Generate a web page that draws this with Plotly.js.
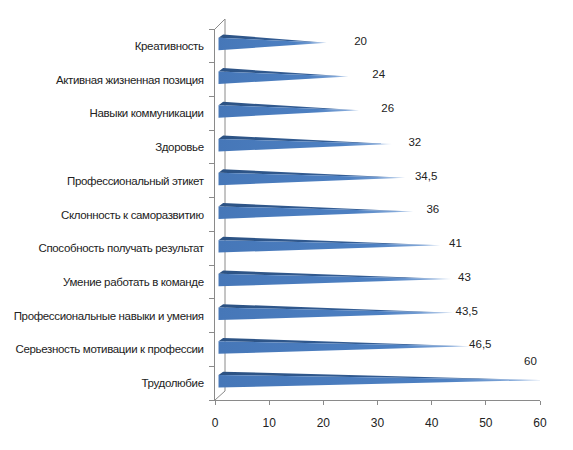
<!DOCTYPE html>
<html>
<head>
<meta charset="utf-8">
<script src="https://cdn.plot.ly/plotly-3.0.1.min.js"></script>
<style>
html,body{margin:0;padding:0;background:#fff;}
#chart{width:573px;height:450px;}
#chart .ytick text{letter-spacing:-0.35px;}
</style>
</head>
<body>
<div id="chart"></div>
<script>
const categories = [
  'Креативность',
  'Активная жизненная позиция',
  'Навыки коммуникации',
  'Здоровье',
  'Профессиональный этикет',
  'Склонность к саморазвитию',
  'Способность получать результат',
  'Умение работать в команде',
  'Профессиональные навыки и умения',
  'Серьезность мотивации к профессии',
  'Трудолюбие'
];
const values = [20, 24, 26, 32, 34.5, 36, 41, 43, 43.5, 46.5, 60];
const xTicks = [0, 10, 20, 30, 40, 50, 60];

const FONT = 'Liberation Sans, Arial, sans-serif';
const TXT = '#222222';
const AX = '#8a8a8a';

const traces = [];
const x0 = 0.65, x1 = 1.5;
const maxV = Math.max(...values);
values.forEach((v, k) => {
  const c = k;
  const tip = v + x0;  // whole cone shifted by the 3D depth offset
  // top (dark) face
  traces.push({
    type: 'scatter', mode: 'lines', hoverinfo: 'skip', showlegend: false,
    x: [x0, x1, tip, x0], y: [c - 0.24, c - 0.34, c - 0.09, c - 0.24],
    fill: 'toself', line: {width: 0, color: 'rgba(0,0,0,0)'},
    fillcolor: '#2f5687',
    fillgradient: {type: 'horizontal', colorscale: [[0, '#2c5283'], [0.8, '#35609a'], [1, '#9fbbe2']]}
  });
  // front face
  traces.push({
    type: 'scatter', mode: 'lines', hoverinfo: 'skip', showlegend: false,
    x: [x0, x0, tip, x0], y: [c - 0.24, c + 0.13, c - 0.09, c - 0.24],
    fill: 'toself', line: {width: 0, color: 'rgba(0,0,0,0)'},
    fillcolor: '#4a7ebd',
    fillgradient: {type: 'horizontal', colorscale: [[0, '#4677b8'], [0.7, '#4d80c2'], [0.93, '#86abdb'], [1, '#c2d5ef']]}
  });
});

// data labels
traces.push({
  type: 'scatter', mode: 'text', hoverinfo: 'skip', showlegend: false,
  x: values.map(v => 0.834 * v + 10.2 - (v === maxV ? 2 : 0)),
  y: values.map((v, k) => k - 0.12 - (v === maxV ? 0.5 : 0)),
  text: values.map(v => String(v).replace('.', ',')),
  textposition: 'middle center',
  textfont: {family: FONT, size: 11.5, color: TXT},
  cliponaxis: false
});

// dummy trace for boundary ticks axis
traces.push({type: 'scatter', mode: 'markers', x: [0], y: [0], yaxis: 'y2',
  marker: {opacity: 0}, hoverinfo: 'skip', showlegend: false});

const n = categories.length;
const dx = 10 / 325, dyTop = 10 / 371, dyBot = 9 / 371;

const layout = {
  width: 573, height: 450,
  margin: {l: 215, r: 33, t: 29, b: 50},
  paper_bgcolor: '#fff', plot_bgcolor: 'rgba(0,0,0,0)',
  showlegend: false,
  font: {family: FONT, size: 12, color: TXT},
  xaxis: {
    range: [0, 60], tickvals: xTicks, ticktext: xTicks.map(String),
    showgrid: false, zeroline: false, showline: true, linecolor: AX, linewidth: 1,
    ticks: 'outside', ticklen: 4, tickcolor: AX, ticklabelstandoff: 8,
    tickfont: {family: FONT, size: 12, color: TXT}
  },
  yaxis: {
    range: [n - 0.5, -0.5], tickvals: categories.map((_, k) => k), ticktext: categories,
    showgrid: false, zeroline: false, showline: true, linecolor: AX, linewidth: 1,
    ticks: 'outside', ticklen: 8, tickcolor: 'rgba(0,0,0,0)',
    tickfont: {family: FONT, size: 11.5, color: TXT}
  },
  yaxis2: {
    overlaying: 'y', side: 'left', range: [n - 0.5, -0.5],
    tickvals: Array.from({length: n + 1}, (_, k) => k - 0.5),
    showticklabels: false, showgrid: false, zeroline: false, showline: false,
    ticks: 'outside', ticklen: 5, tickcolor: AX
  },
  shapes: [
    {type: 'line', xref: 'paper', yref: 'paper', x0: dx, x1: dx, y0: dyBot, y1: 1 + dyTop, line: {color: AX, width: 1}, layer: 'below'},
    {type: 'line', xref: 'paper', yref: 'paper', x0: 0, x1: dx, y0: 1, y1: 1 + dyTop, line: {color: AX, width: 1}, layer: 'below'},
    {type: 'line', xref: 'paper', yref: 'paper', x0: 0, x1: dx, y0: 0, y1: dyBot, line: {color: AX, width: 1}, layer: 'below'}
  ]
};

Plotly.newPlot('chart', traces, layout, {staticPlot: true, displayModeBar: false});
</script>
</body>
</html>
